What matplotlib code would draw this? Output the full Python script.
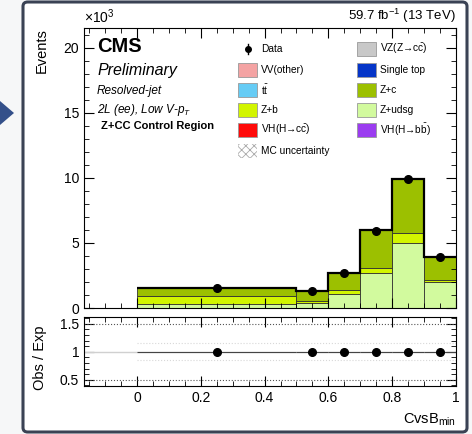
import numpy as np
import matplotlib.pyplot as plt
from matplotlib.patches import FancyBboxPatch, Polygon
from matplotlib.lines import Line2D
from matplotlib.ticker import MultipleLocator

plt.rcParams['font.family'] = ['Liberation Sans', 'DejaVu Sans']
plt.rcParams['mathtext.fontset'] = 'custom'
plt.rcParams['mathtext.rm'] = 'Liberation Sans'
plt.rcParams['mathtext.it'] = 'Liberation Sans:italic'
plt.rcParams['hatch.linewidth'] = 0.6

# bins of CvsB_min
bin_edges = [0.0, 0.5, 0.6, 0.7, 0.8, 0.9, 1.0]
bin_centers = [0.25, 0.55, 0.65, 0.75, 0.85, 0.95]

# stacked MC (events), bottom to top
z_udsg = [340, 350, 1100, 2720, 5000, 1980]
z_b = [560, 200, 300, 380, 770, 200]
z_c = [600, 750, 1300, 2870, 4100, 1700]

# data (events)
data = [1530, 1300, 2700, 5950, 9900, 3900]
data_err = [40, 36, 52, 77, 99, 62]

ratio = [1.0, 1.0, 1.0, 0.99, 1.0, 1.0]
ratio_err = [0.03, 0.03, 0.02, 0.015, 0.01, 0.015]

col_udsg = '#d2fa9e'
col_zb = '#d2f500'
col_zc = '#9cc000'

W, H = 472, 434
fig = plt.figure(figsize=(W / 100, H / 100), dpi=100)
fig.patch.set_facecolor('#f6f7f8')

# screenshot frame and arrow
frame = FancyBboxPatch((23 / W, 2 / H), 444 / W, 430 / H, boxstyle='round,pad=0,rounding_size=0.01',
                       transform=fig.transFigure, facecolor='white', edgecolor='#3a4254', lw=2.2,
                       zorder=-10)
fig.patches.append(frame)
arrow = Polygon([(0, 1 - 101 / H), (14 / W, 1 - 113 / H), (0, 1 - 125 / H)],
                closed=True, transform=fig.transFigure, facecolor='#34508a', edgecolor='none',
                zorder=-10)
fig.patches.append(arrow)

ax = fig.add_axes([84 / W, 1 - 308 / H, 372 / W, 280 / H])
axr = fig.add_axes([84 / W, 1 - 386 / H, 372 / W, 69 / H])

k = 1000.0
edges = np.array(bin_edges)
bottom = np.zeros(len(bin_centers))
for vals, c in [(z_udsg, col_udsg), (z_b, col_zb), (z_c, col_zc)]:
    v = np.array(vals) / k
    ax.bar(edges[:-1], v, width=np.diff(edges), bottom=bottom, align='edge',
           color=c, edgecolor='#333333', linewidth=0.6)
    bottom = bottom + v

# total outline (MC uncertainty)
ax.stairs(bottom, edges, color='black', lw=1.6, baseline=None)
ax.errorbar(bin_centers, np.array(data) / k, yerr=np.array(data_err) / k, fmt='o',
            color='black', ms=5.5, lw=1)

ax.set_xlim(-0.166, 1.0)
ax.set_ylim(0, 21.5)
ax.yaxis.set_major_locator(MultipleLocator(5))
ax.yaxis.set_minor_locator(MultipleLocator(1))
for a in (ax, axr):
    a.xaxis.set_major_locator(MultipleLocator(0.2))
    a.xaxis.set_minor_locator(MultipleLocator(0.05))
    a.tick_params(which='both', direction='in', top=True, right=True, labelsize=10)
    a.tick_params(which='major', length=7, width=0.8)
    a.tick_params(which='minor', length=3.5, width=0.6)
ax.tick_params(labelbottom=False)

# ratio panel
axr.set_xlim(-0.166, 1.0)
axr.set_ylim(0.39, 1.62)
axr.yaxis.set_major_locator(MultipleLocator(0.5))
axr.yaxis.set_minor_locator(MultipleLocator(0.1))
axr.set_yticks([0.5, 1.0, 1.5])
axr.set_yticklabels(['0.5', '1', '1.5'])
axr.set_xticks([0, 0.2, 0.4, 0.6, 0.8, 1.0])
axr.set_xticklabels(['0', '0.2', '0.4', '0.6', '0.8', '1'])
axr.axhline(1.0, color='#d0d0d0', lw=1)
axr.axhline(1.5, color='#555555', lw=0.8, ls=':')
axr.axhline(0.5, color='#555555', lw=0.8, ls=':')
axr.hlines([0.85, 1.15], 0, 1, color='#d8d8d8', lw=0.8, ls=':')
axr.fill_between(edges, 0.985, 1.015, step='pre', facecolor='none', edgecolor='#888888',
                 hatch='vvvv', lw=0)
half = np.diff(edges) / 2
axr.errorbar(bin_centers, ratio, xerr=half, yerr=ratio_err, fmt='o', color='black',
             ecolor='#444444', elinewidth=0.8, ms=5.5)

# texts
fig.text(42 / W, 1 - 28 / H, 'Events', rotation=90, ha='center', va='top', fontsize=10.5)
fig.text(40 / W, 1 - 358 / H, 'Obs / Exp', rotation=90, ha='center', va='center', fontsize=10.5)
fig.text(456 / W, 1 - 428 / H, r'CvsB$_{\mathrm{min}}$', ha='right', va='bottom', fontsize=10.5)
fig.text(84 / W, 1 - 26 / H, r'$\times$10$^{3}$', ha='left', va='bottom', fontsize=10)
fig.text(456 / W, 1 - 25 / H, r'59.7 fb$^{-1}$ (13 TeV)', ha='right', va='bottom', fontsize=9.5)

tx = 97 / W
fig.text(tx, 1 - 47 / H, 'CMS', fontsize=14.5, fontweight='bold', va='center')
fig.text(tx, 1 - 70 / H, 'Preliminary', fontsize=11.5, style='italic', va='center')
fig.text(tx, 1 - 91 / H, 'Resolved-jet', fontsize=8.5, style='italic', va='center')
fig.text(tx, 1 - 110 / H, r'2L (ee), Low V-$p_T$', fontsize=8.5, style='italic', va='center')
fig.text(101 / W, 1 - 126 / H, 'Z+CC Control Region', fontsize=8, fontweight='bold', va='center')

# legend, two columns
col1 = [('Data', None), ('VV(other)', '#f4a3a3'), (r't$\bar{\mathrm{t}}$', '#66ccf5'),
        ('Z+b', col_zb), (r'VH(H→c$\bar{\mathrm{c}}$)', '#ff0a0a'), ('MC uncertainty', 'hatch')]
col2 = [(r'VZ(Z→c$\bar{\mathrm{c}}$)', '#c8c8c8'), ('Single top', '#0535c8'),
        ('Z+c', col_zc), ('Z+udsg', col_udsg), (r'VH(H→b$\bar{\mathrm{b}}$)', '#9b3cf0')]
rows_y = [49, 70, 90, 110, 130, 151]
for x0, entries in [(238, col1), (357, col2)]:
    for (lab, c), yy in zip(entries, rows_y):
        yf = 1 - yy / H
        if c is None:
            fig.lines.append(Line2D([(x0 + 9.5) / W], [yf], marker='o', ms=4, color='black',
                                    transform=fig.transFigure))
            fig.lines.append(Line2D([(x0 + 9.5) / W] * 2, [yf - 5 / H, yf + 5 / H], color='black',
                                    lw=1, transform=fig.transFigure))
        elif c == 'hatch':
            p = plt.Rectangle(((x0) / W, yf - 6.5 / H), 19 / W, 13 / H, transform=fig.transFigure,
                              facecolor='none', edgecolor='#aaaaaa', hatch='xxxx', lw=0)
            fig.patches.append(p)
        else:
            p = plt.Rectangle(((x0) / W, yf - 6.5 / H), 19 / W, 13 / H, transform=fig.transFigure,
                              facecolor=c, edgecolor='#999999', lw=0.6)
            fig.patches.append(p)
        fig.text((x0 + 23) / W, yf, lab, fontsize=7.3, va='center', ha='left')

fig.savefig('out.png', dpi=100, facecolor=fig.get_facecolor())
